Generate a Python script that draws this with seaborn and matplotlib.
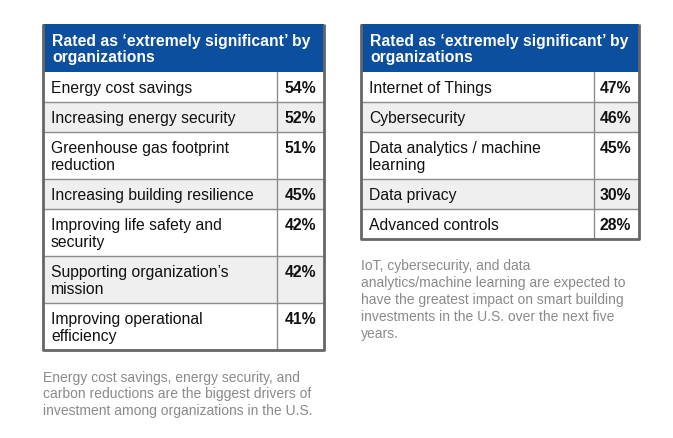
import numpy as np
import pandas as pd
import seaborn as sns
from matplotlib import pyplot as plt
from matplotlib.patches import Rectangle

# drivers of investment (left table)
drivers = ["Energy cost savings", "Increasing energy security",
           "Greenhouse gas footprint\nreduction", "Increasing building resilience",
           "Improving life safety and\nsecurity", "Supporting organization\u2019s\nmission",
           "Improving operational\nefficiency"]
driver_pct = [54, 52, 51, 45, 42, 42, 41]

# technologies (right table)
techs = ["Internet of Things", "Cybersecurity", "Data analytics / machine\nlearning",
         "Data privacy", "Advanced controls"]
tech_pct = [47, 46, 45, 30, 28]

header = "Rated as \u2018extremely significant\u2019 by\norganizations"
note_left = ("Energy cost savings, energy security, and\ncarbon reductions are the biggest drivers of\n"
             "investment among organizations in the U.S.")
note_right = ("IoT, cybersecurity, and data\nanalytics/machine learning are expected to\n"
              "have the greatest impact on smart building\ninvestments in the U.S. over the next five\nyears.")

sns.set_theme(style="white")
plt.rcParams['font.family'] = ['Liberation Sans', 'DejaVu Sans']

blue = '#0b4f9e'
shade = '#efefef'
edge = '#666666'
grid = '#8c8c8c'


def draw_table(ax, x0, x1, xdiv, labels, pcts, note, note_gap, note_size, note_ls):
    df = pd.DataFrame({'label': labels, 'pct': pcts})
    df['lines'] = df['label'].str.count('\n') + 1
    df['h'] = 30 + 17 * (df['lines'] - 1)
    df['top'] = 73 + df['h'].cumsum() - df['h']
    bottom = 73 + df['h'].sum()

    ax.add_patch(Rectangle((x0, 25), x1 - x0, 48, facecolor=blue, edgecolor='none'))
    ax.text(x0 + 9, 34, header, color='white', fontsize=11.3, fontweight='bold',
            va='top', ha='left', linespacing=1.12)

    for i, r in df.iterrows():
        fc = shade if i % 2 == 1 else 'white'
        ax.add_patch(Rectangle((x0, r['top']), x1 - x0, r['h'], facecolor=fc, edgecolor='none'))
        if i > 0:
            ax.plot([x0, x1], [r['top'], r['top']], color=grid, lw=1)
        ax.text(x0 + 8, r['top'] + 8, r['label'], fontsize=11.3, va='top', ha='left',
                color='#111111', linespacing=1.15)
        ax.text(x1 - 8, r['top'] + 8, f"{r['pct']}%", fontsize=11.3, fontweight='bold',
                va='top', ha='right', color='#111111')

    ax.plot([xdiv, xdiv], [73, bottom], color=grid, lw=1)
    ax.plot([x0, x0, x1, x1], [25, bottom, bottom, 25], color=edge, lw=2, solid_capstyle='butt')

    ax.text(x0, bottom + note_gap, note, fontsize=note_size, color='#8a8a8a', va='top', ha='left',
            linespacing=note_ls)


fig = plt.figure(figsize=(6.73, 4.39), dpi=100)
ax = fig.add_axes([0, 0, 1, 1])
ax.set_xlim(0, 673)
ax.set_ylim(439, 0)
ax.axis('off')

draw_table(ax, 43, 324, 277, drivers, driver_pct, note_left, 20, 10.0, 1.22)
draw_table(ax, 361, 639, 594, techs, tech_pct, note_right, 19, 10.0, 1.28)

fig.savefig("out.png", dpi=100)
plt.close(fig)
